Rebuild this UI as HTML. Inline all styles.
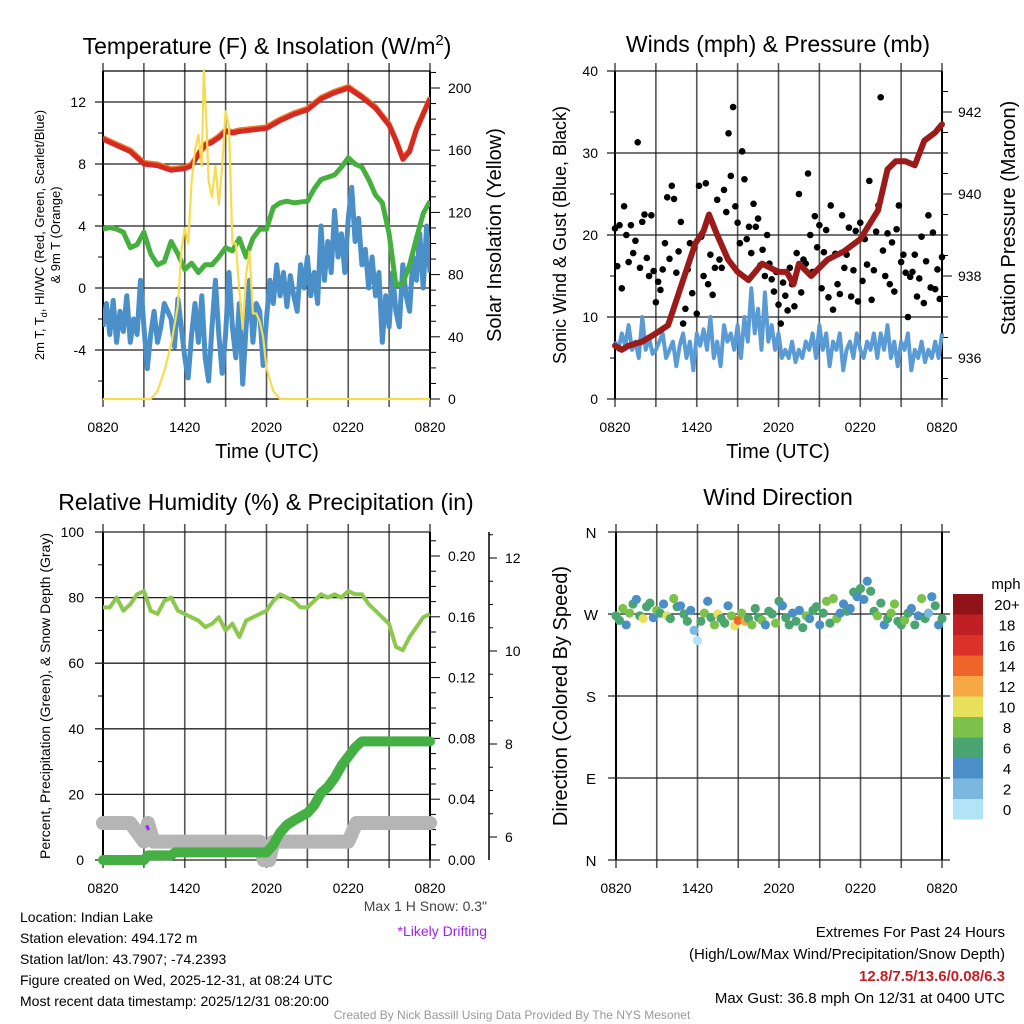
<!DOCTYPE html>
<html><head><meta charset="utf-8"><style>
html,body{margin:0;padding:0;background:#fff;}
svg{display:block;font-family:"Liberation Sans",Arial,sans-serif;}
</style></head><body>
<svg id="c" width="1024" height="1024" viewBox="0 0 1024 1024" xmlns="http://www.w3.org/2000/svg"></svg>
<script>
// ---------- DATA ----------
const xTickLabels = ["0820","1420","2020","0220","0820"];
// Temperature panel (hours since 0820)
const tempHours = [0,1,2,3,4,5,6,6.5,7,7.5,8,8.5,9,9.5,10,11,12,13,14,15,16,17,18,19,20,21,21.5,22,22.5,23,24];
const tempVals  = [9.6,9.2,8.8,8.0,7.9,7.6,7.7,7.9,8.6,9.2,9.4,9.7,10.1,10.0,10.1,10.2,10.3,10.8,11.2,11.5,12.2,12.6,12.9,12.3,11.6,10.5,9.5,8.3,8.8,10.2,12.2];
const dewHours = [0,0.5,1,1.5,2,2.5,3,3.5,4,4.5,5,5.5,6,6.5,7,7.5,8,8.5,9,9.5,10,10.5,11,11.5,12,12.5,13,13.5,14,15,15.5,16,17,17.5,18,18.5,19,19.5,20,20.5,21,21.5,22,22.5,23,23.5,24];
const dewVals  = [3.8,3.9,3.8,3.6,2.6,2.8,3.6,2.2,1.5,1.7,3.0,2.2,1.2,1.6,1.0,1.5,1.5,2.0,2.6,2.4,3.2,2.0,3.2,3.8,3.8,5.2,5.5,5.6,5.5,5.6,6.4,7.0,7.3,7.8,8.4,8.0,7.8,7.0,6.0,5.5,3.5,0.2,0.3,1.5,3.2,4.8,5.6];
const wcVals = [-2.5,-1,-3,-0.8,-3.5,-1.5,-2.8,-0.5,-3.5,-2,-3,0.5,-2.5,-5.2,-3,-1.5,-3.5,-2.5,-1,-1.5,-2,-3.8,-0.7,-2.5,-4.5,
 -5.8,-3,-1,-3.5,-0.5,-4.5,-6,-2.5,0.5,-3,-5.5,-3,1,-2.5,-4.5,-1,-6.2,-2.5,0.5,-3.5,-1,-1.5,-5,-2,
 0.5,-1,1.5,-0.5,1,-1.2,0.8,-0.5,-1.5,1.5,0,2,-0.5,1,-1,4,0.5,3,1,5,2,3.5,1,4.5,
 6.5,3,4.5,1.5,2.5,0,2,-0.5,1,-3.5,-0.5,-2.5,1,-1.5,-2.5,1.5,-0.5,-1.5,2,0.5,3.5,0,4,1];
const solarHours = [0,3.5,4,4.5,5,5.5,5.75,6,6.25,6.5,6.75,7,7.25,7.4,7.6,7.75,8,8.25,8.5,8.75,9,9.25,9.5,9.75,10,10.25,10.5,10.75,11,11.25,11.5,11.75,12,12.5,13,24];
const solarVals  = [0,0,5,18,35,60,95,110,100,140,160,170,150,212,175,140,130,150,125,150,185,175,100,100,70,45,80,95,55,55,50,40,20,5,0,0];
// Winds panel
const sonicVals = [7,6,8,6.5,9,6,7,5,10,6,7.5,5.5,6,7,8,5,6,7,4,6.5,8,5,7,3.5,8,
 6.5,8.5,6,10,5,7,4,9,7,8,6,9,5,10,7,13.5,8,11,6,13,7,9,6,8,
 5,6,5,7,4.5,6,5,7,6,8,5,9,6,8,4,7,6,8,3.5,6,7,5,8,6,
 5,7,6,8,5,8,6,9,5,7,4,7,6,8,3.5,6,5,7,4.5,6,5,7,5,8];
const gustVals = [20.8,16.2,21.2,13.5,23.5,20,16.7,21.2,17.8,19.3,31.3,16,21.6,
 22.5,17.2,15,22.4,15.6,11.8,14.3,13.3,15.8,19,24.6,17.1,
 26,24.4,15.4,18,21.6,9.2,11,15.8,19,12.9,18.5,10.4,
 26,19.8,15,26.3,14,17.6,12.7,16,24.3,17,16,25.5,
 22.8,32.4,27.2,35.6,23.5,21.5,19,30.2,26.8,19.5,21,17.8,
 23.8,21,22,16.3,18.2,15,20,16.5,14.6,13.1,15.5,11.5,
 9.2,14.2,12.6,10.8,16,14,11.3,17.8,25,13,17,16.5,
 27.5,20,15.5,22.3,18.5,21.2,13.5,17.9,20.6,12.4,23.6,10.9,
 17.7,14,12.8,22.4,16,17.6,20.9,12.5,15.7,20.5,11.9,21.5,
 14.4,19.5,16.4,26.6,12.1,15.7,20.4,23.6,36.8,18.1,15,20.2,
 14,19.1,13.1,20.7,23.6,16.7,17.6,15.4,10,14.9,15.5,17.6,
 12.5,14.7,19.8,11.7,16.8,22.4,13.6,20.3,13.4,15.8,12.2,17.3];
const presHours = [0,0.5,1,2,3,3.9,4.5,5,5.9,6.5,6.9,7.5,8.3,9,9.8,10.8,12,12.6,13.1,13.5,14.4,15.6,16.8,18,19.3,20,20.6,21.3,22,22.7,23.5,24];
const presVals  = [936.3,936.2,936.3,936.4,936.6,936.8,937.4,937.9,938.8,939.1,939.5,939.0,938.4,938.1,937.9,938.3,938.1,938.1,937.8,938.3,938.0,938.4,938.6,938.9,939.6,940.6,940.8,940.8,940.7,941.3,941.5,941.7];
// RH / precip / snow panel
const rhVals = [77,77,80,76,78,81,82,76,75,79,80,76,75,74,73,71,72,74,70,72,68,73,74,75,76,79,81,80,79,77,77,79,81,80,81,80,82,81,81,78,76,74,72,65,64,68,71,74,75];
const precipHours = [0,3,3.3,5,5.3,12,12.5,13,13.5,14,15,15.5,16,16.5,17,17.5,18,18.5,19,24];
const precipVals  = [0,0,0.003,0.003,0.005,0.005,0.01,0.018,0.023,0.026,0.031,0.036,0.044,0.048,0.054,0.062,0.068,0.074,0.078,0.078];
const snowHours = [0,2,2.5,3,3.3,3.7,4,11.5,11.8,12.2,12.5,18,18.3,18.6,24];
const snowVals  = [6.3,6.3,6.1,5.9,6.3,5.9,5.9,5.9,5.5,5.5,5.9,5.9,6.1,6.3,6.3];
// Wind direction panel
const dirVals = [268,263,276,258,271,281,286,268,265,278,282,266,274,271,281,268,265,287,278,279,270,262,274,252,241,
 262,271,284,266,258,270,265,260,279,268,257,263,271,262,265,258,276,266,263,258,273,270,260,284,
 279,266,258,271,262,274,255,268,265,274,278,258,271,284,260,287,265,271,281,273,276,294,289,298,
 286,306,295,273,268,282,258,265,271,281,262,258,263,271,276,258,268,287,265,271,289,279,258,265];
const dirSpeed = [7,6,8,5,9,7,4,6,10,6,7,5,8,6,4,10,7,8,6,5,7,6,4,3,1.5,
 7,9,5,7,8,10,6,7,5,8,11,14,9,13,7,8,6,7,8,5,6,7,9,6,
 4,6,7,5,6,5,7,8,5,6,7,5,6,8,7,9,8,4,5,6,4,6,5,7,
 4,5,6,7,8,6,5,6,8,9,6,7,8,7,5,6,4,8,6,3,4,7,4,6];
const cbLabels = ["20+","18","16","14","12","10","8","6","4","2","0"];
const cbColors = ["#8f1418","#c01f26","#db3128","#ef6429","#f5a845","#e6e05a","#7cc24a","#4aa570","#4a8fc7","#7ab8e0","#b3e3f7"];

// ---------- HELPERS ----------
const NS="http://www.w3.org/2000/svg";
const svg=document.getElementById('c');
function el(tag,attrs,parent){const e=document.createElementNS(NS,tag);for(const k in attrs)e.setAttribute(k,attrs[k]);(parent||svg).appendChild(e);return e;}
function txt(s,x,y,size,anchor,parent,extra){const t=el('text',Object.assign({x:x,y:y,'font-size':size,'text-anchor':anchor||'start',fill:'#000'},extra||{}),parent);t.textContent=s;return t;}
function linScale(d0,d1,r0,r1){return v=>r0+(v-d0)*(r1-r0)/(d1-d0);}
function pathD(xs,ys,fx,fy){return xs.map((h,i)=>(i?'L':'M')+fx(h).toFixed(1)+' '+fy(ys[i]).toFixed(1)).join(' ');}
function hoursQ(n){return Array.from({length:n},(_,i)=>i*24/(n-1));}

function frame(g,x0,x1,y0,y1){
  for(let i=0;i<=8;i++){const x=x0+i*(x1-x0)/8;
    const l=el('line',{x1:x,x2:x,y1:y0-8,y2:y1+8,stroke:'#555','stroke-width':1.6},g);
    
    }
  xTickLabels.forEach((s,i)=>{const t=txt(s,x0+i*(x1-x0)/4,y1+33,14,'middle',g);
    
    });
  el('line',{x1:x0,x2:x0,y1:y0,y2:y1,stroke:'#000','stroke-width':2},g);
  el('line',{x1:x1,x2:x1,y1:y0,y2:y1,stroke:'#000','stroke-width':2},g);
}
function hgrid(g,x0,x1,y,label,lx){
  el('line',{x1:x0-8,x2:x1,y1:y,y2:y,stroke:'#222','stroke-width':1.3},g);
  if(label!==null){const t=txt(label,lx,y+5,14,'end',g);
    
    }
}

// ---------- PANEL 1: Temperature ----------
(function(){
  const g=el('g',{});
  const X0=103,X1=430,Y0=71,Y1=399;
  const fx=linScale(0,24,X0,X1), fy=linScale(0,12,288,102), fs=linScale(0,200,399,88);
  frame(g,X0,X1,Y0,Y1);
  [12,8,4,0,-4].forEach(v=>hgrid(g,X0,X1,fy(v),String(v),86));
  el('line',{x1:X0,x2:X1,y1:Y0,y2:Y0,stroke:'#000','stroke-width':1.3},g);
  el('line',{x1:X0,x2:X1,y1:Y1,y2:Y1,stroke:'#000','stroke-width':1.3},g);
  [10,6,2,-2,-6].forEach(v=>el('line',{x1:X0-5,x2:X0,y1:fy(v),y2:fy(v),stroke:'#000'},g));
  for(let v=0;v<=210;v+=10){const y=fs(v);el('line',{x1:X1,x2:X1+(v%40===0?10:6),y1:y,y2:y,stroke:'#000'},g);}
  [0,40,80,120,160,200].forEach(v=>{const t=txt(String(v),448,fs(v)+5,14,'start',g);});
  const clip=el('clipPath',{id:'cp1'},g);el('rect',{x:X0,y:Y0-2,width:X1-X0,height:Y1-Y0+4},clip);
  const pg=el('g',{'clip-path':'url(#cp1)'},g);
  let p;
  p=el('path',{d:pathD(hoursQ(wcVals.length),wcVals,fx,fy),fill:'none',stroke:'#4a8fc7','stroke-width':5,'stroke-linejoin':'round'},pg);
  
  p=el('path',{d:pathD(dewHours,dewVals,fx,fy),fill:'none',stroke:'#45b03e','stroke-width':5,'stroke-linejoin':'round'},pg);
  
  p=el('path',{d:pathD(tempHours,tempVals.map(v=>v+0.1),fx,fy),fill:'none',stroke:'#f07a2a','stroke-width':5,'stroke-linejoin':'round'},pg);
  
  p=el('path',{d:pathD(tempHours,tempVals,fx,fy),fill:'none',stroke:'#d42a22','stroke-width':5,'stroke-linejoin':'round'},pg);
  
  p=el('path',{d:pathD(solarHours,solarVals,fx,fs),fill:'none',stroke:'#f7dc50','stroke-width':2.2,'stroke-linejoin':'round'},pg);
  
  let t=el('text',{x:267,y:54,'font-size':23,'text-anchor':'middle'},g);
  t.innerHTML='Temperature (F) &amp; Insolation (W/m<tspan font-size="15" dy="-9">2</tspan><tspan dy="9">)</tspan>';
  t=el('text',{'font-size':13,'text-anchor':'middle',transform:'translate(44,235) rotate(-90)'},g);
  t.innerHTML='2m T, T<tspan font-size="9" dy="3">d</tspan><tspan dy="-3">, HI/WC (Red, Green, Scarlet/Blue)</tspan>';
  t=txt('& 9m T (Orange)',0,0,13,'middle',g,{transform:'translate(60,235) rotate(-90)'});
  t=txt('Solar Insolation (Yellow)',0,0,20,'middle',g,{transform:'translate(501,235) rotate(-90)'});
  t=txt('Time (UTC)',267,458,20,'middle',g);
})();

// ---------- PANEL 2: Winds ----------
(function(){
  const g=el('g',{});
  const X0=615,X1=942,Y0=71,Y1=399;
  const fx=linScale(0,24,X0,X1), fy=linScale(0,40,399,71), fp=linScale(936,942,358,112);
  frame(g,X0,X1,Y0,Y1);
  [40,30,20,10,0].forEach(v=>hgrid(g,X0,X1,fy(v),String(v),598));
  [35,25,15,5].forEach(v=>el('line',{x1:X0-5,x2:X0,y1:fy(v),y2:fy(v),stroke:'#000'},g));
  for(let v=935;v<=942.6;v+=0.5){const y=fp(v);el('line',{x1:X1,x2:X1+(Math.abs(v%2)<0.01?10:6),y1:y,y2:y,stroke:'#000'},g);}
  [936,938,940,942].forEach(v=>{const t=txt(String(v),958,fp(v)+5,14,'start',g);});
  const hs=hoursQ(sonicVals.length);
  let p=el('path',{d:pathD(hs,sonicVals,fx,fy),fill:'none',stroke:'#5b9bd5','stroke-width':4,'stroke-linejoin':'round'},g);
  
  const hg=hoursQ(gustVals.length);
  gustVals.forEach((v,i)=>{const c=el('circle',{cx:fx(hg[i]),cy:fy(v),r:3.3,fill:'#000'},g);
    
    });
  p=el('path',{d:pathD(presHours,presVals,fx,fp),fill:'none',stroke:'#9b1b1b','stroke-width':6,'stroke-linejoin':'round','stroke-linecap':'round'},g);
  
  let t=txt('Winds (mph) & Pressure (mb)',778,52,23,'middle',g);
  t=txt('Sonic Wind & Gust (Blue, Black)',0,0,18,'middle',g,{transform:'translate(566,235) rotate(-90)'});
  t=txt('Station Pressure (Maroon)',0,0,20,'middle',g,{transform:'translate(1015,218) rotate(-90)'});
  t=txt('Time (UTC)',778,458,20,'middle',g);
})();

// ---------- PANEL 3: RH ----------
(function(){
  const g=el('g',{});
  const X0=103,X1=430,Y0=532,Y1=860;
  const fx=linScale(0,24,X0,X1), fy=linScale(0,100,860,532), fpr=linScale(0,0.2,860,556), fsn=linScale(6,8,837,744);
  frame(g,X0,X1,Y0,Y1);
  [100,80,60,40,20,0].forEach(v=>hgrid(g,X0,X1,fy(v),String(v),84));
  [90,70,50,30,10].forEach(v=>el('line',{x1:X0-5,x2:X0,y1:fy(v),y2:fy(v),stroke:'#000'},g));
  for(let v=0;v<=0.215;v+=0.01){const y=fpr(v);el('line',{x1:X1,x2:X1+(Math.round(v*100)%4===0?10:6),y1:y,y2:y,stroke:'#000'},g);}
  [0,0.04,0.08,0.12,0.16,0.20].forEach(v=>{const t=txt(v.toFixed(2),448,fpr(v)+5,14,'start',g);});
  el('line',{x1:489,x2:489,y1:Y0,y2:Y1,stroke:'#000','stroke-width':1.5},g);
  for(let v=6;v<=12.5;v+=0.5){const y=fsn(v);el('line',{x1:489,x2:489+(v%2===0?8:4),y1:y,y2:y,stroke:'#000'},g);}
  [6,8,10,12].forEach(v=>{const t=txt(String(v),505,fsn(v)+5,14,'start',g);});
  let p=el('path',{d:pathD(snowHours,snowVals,fx,fsn),fill:'none',stroke:'#b5b5b5','stroke-width':14,'stroke-linejoin':'round','stroke-linecap':'round'},g);
  
  p=el('line',{x1:fx(3.2),y1:fsn(6.25),x2:fx(3.35),y2:fsn(6.15),stroke:'#a020f0','stroke-width':3},g);
  
  p=el('path',{d:pathD(precipHours,precipVals,fx,fpr),fill:'none',stroke:'#44b044','stroke-width':10,'stroke-linejoin':'round','stroke-linecap':'round'},g);
  
  p=el('path',{d:pathD(hoursQ(rhVals.length),rhVals,fx,fy),fill:'none',stroke:'#8cc84b','stroke-width':4,'stroke-linejoin':'round'},g);
  
  let t=txt('Relative Humidity (%) & Precipitation (in)',266,510,23,'middle',g);
  t=txt('Percent, Precipitation (Green), & Snow Depth (Gray)',0,0,14,'middle',g,{transform:'translate(50,696) rotate(-90)'});
  t=txt('Max 1 H Snow: 0.3"',487,911,14,'end',g,{fill:'#444'});
  t=txt('*Likely Drifting',487,936,14,'end',g,{fill:'#a020f0'});
})();

// ---------- PANEL 4: Wind direction ----------
(function(){
  const g=el('g',{});
  const X0=616,X1=942,Y0=532,Y1=860;
  const fx=linScale(0,24,X0,X1), fy=linScale(0,360,860,532);
  frame(g,X0,X1,Y0,Y1);
  [['N',360],['W',270],['S',180],['E',90],['N',0]].forEach(a=>{el('line',{x1:X0-8,x2:X1+8,y1:fy(a[1]),y2:fy(a[1]),stroke:'#222','stroke-width':1.3},g);
    const t=txt(a[0],591,fy(a[1])+6,15,'middle',g);});
  const hd=hoursQ(dirVals.length);
  function col(s){const i=Math.min(10,Math.floor(s/2));return cbColors[10-i];}
  dirVals.forEach((d,i)=>{const c=el('circle',{cx:fx(hd[i]),cy:fy(d),r:4.6,fill:col(dirSpeed[i])},g);
    
    });
  const cb=el('g',{},g);
  cbColors.forEach((c,i)=>{el('rect',{x:953,y:594+i*20.5,width:30,height:20.6,fill:c},cb);
    const t=txt(cbLabels[i],1007,594+i*20.5+16,15,'middle',cb);});
  let t=txt('mph',1006,589,15,'middle',cb);
  t=txt('Wind Direction',778,505,23,'middle',g);
  t=txt('Direction (Colored By Speed)',0,0,20,'middle',g,{transform:'translate(567,696) rotate(-90)'});
})();

// ---------- FOOTER ----------
(function(){
  const g=el('g',{});
  const L=["Location: Indian Lake","Station elevation: 494.172 m","Station lat/lon: 43.7907; -74.2393","Figure created on Wed, 2025-12-31, at 08:24 UTC","Most recent data timestamp: 2025/12/31 08:20:00"];
  L.forEach((s,i)=>{const t=txt(s,20,922+i*21,14,'start',g);});
  let t=txt('Extremes For Past 24 Hours',1005,937,15,'end',g);
  t=txt('(High/Low/Max Wind/Precipitation/Snow Depth)',1005,959,15,'end',g);
  t=txt('12.8/7.5/13.6/0.08/6.3',1005,981,15,'end',g,{fill:'#c41e24','font-weight':'bold'});
  t=txt('Max Gust: 36.8 mph On 12/31 at 0400 UTC',1005,1003,15,'end',g);
  t=txt('Created By Nick Bassill Using Data Provided By The NYS Mesonet',512,1019,12,'middle',g,{fill:'#999'});
})();
</script>
</body></html>
